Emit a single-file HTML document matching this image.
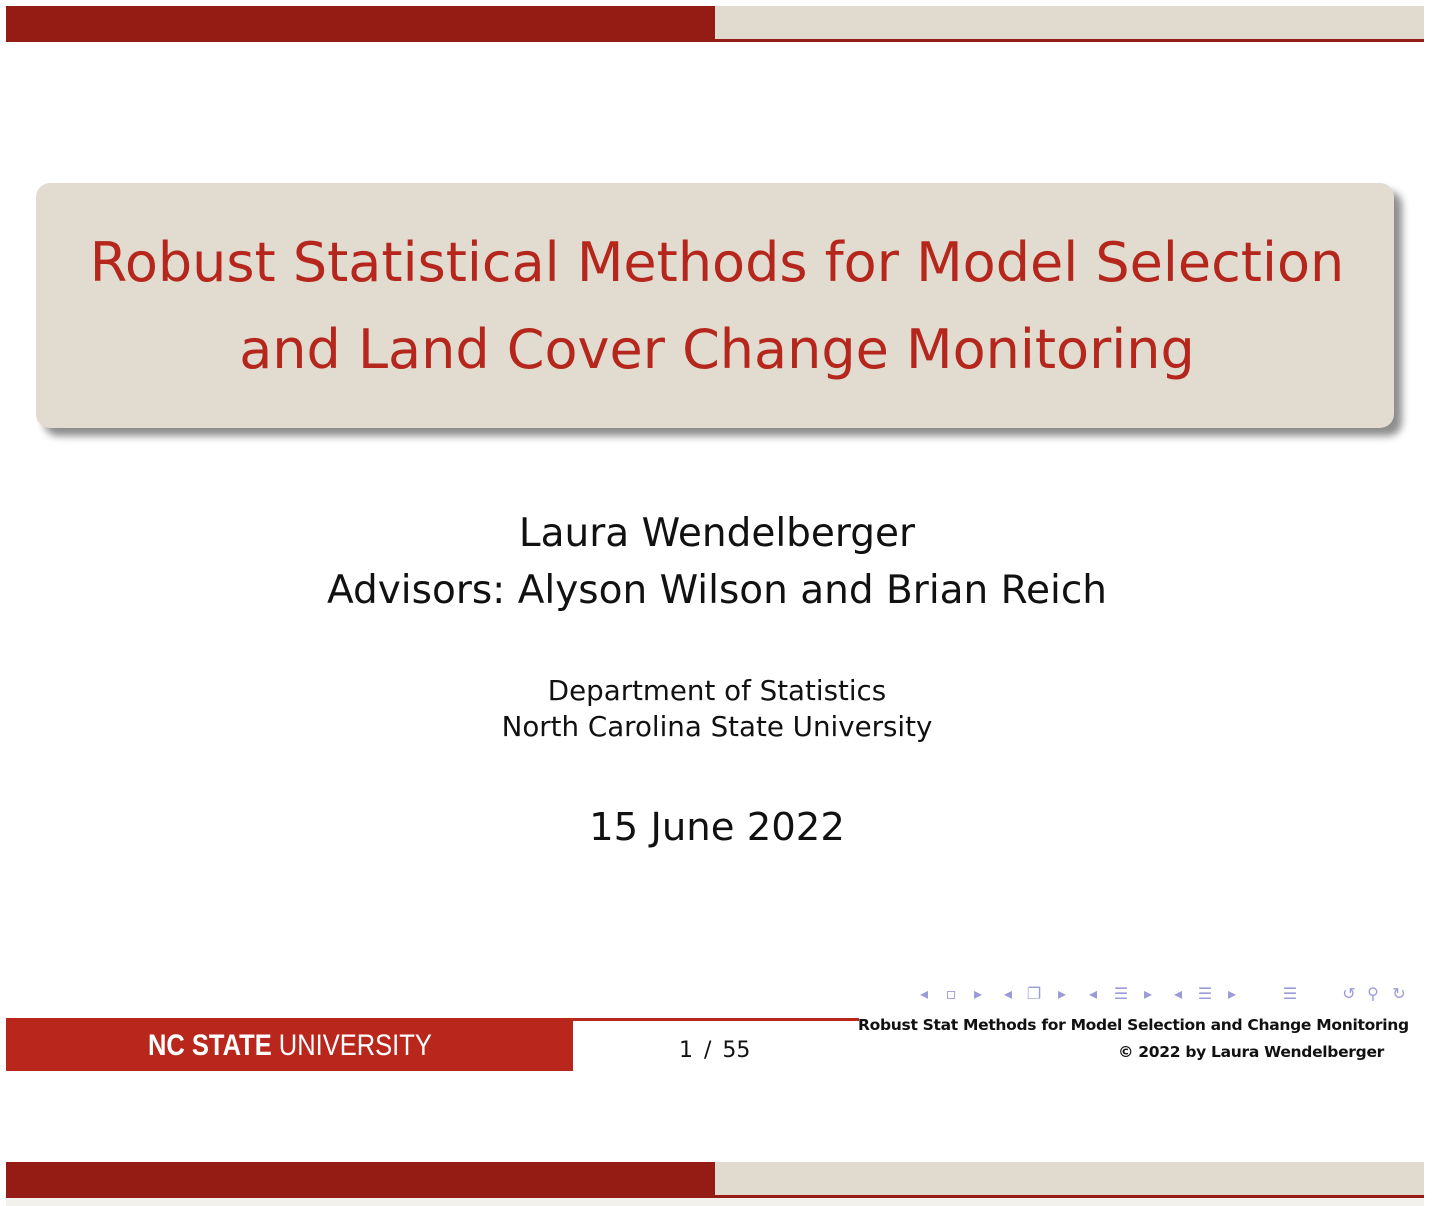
<!DOCTYPE html>
<html><head><meta charset="utf-8"><style>
body{margin:0;width:1434px;height:1206px;background:#fff;position:relative;overflow:hidden;font-family:"DejaVu Sans","Liberation Sans",sans-serif}
div{position:absolute}
.c{left:0;width:1434px;text-align:center;white-space:nowrap}
.n{position:absolute;top:984px;font-size:16px;color:#9b9bd6;transform:translateX(-50%)}
</style></head><body>
<div style="left:6px;top:6px;width:709px;height:36px;background:#951c14"></div>
<div style="left:715px;top:6px;width:709px;height:33px;background:#e1dbcf"></div>
<div style="left:715px;top:39px;width:709px;height:3px;background:#951c14"></div>

<div style="left:36px;top:183px;width:1358px;height:245px;background:#e1dbd0;border-radius:14px;box-shadow:8px 8px 8px rgba(0,0,0,0.45)"></div>
<div class="c" style="top:219px;color:#b5261c;font-size:54px;line-height:87px;">Robust Statistical Methods for Model Selection<br>and Land Cover Change Monitoring</div>

<div class="c" style="top:505px;font-size:39px;line-height:57px;color:#111">Laura Wendelberger<br>Advisors: Alyson Wilson and Brian Reich</div>
<div class="c" style="top:673px;font-size:27.7px;line-height:36px;color:#111">Department of Statistics<br>North Carolina State University</div>
<div class="c" style="top:800px;font-size:38.6px;line-height:56px;color:#111">15 June 2022</div>

<span class="n" style="left:924px">◂</span>
<span class="n" style="left:951px">▫</span>
<span class="n" style="left:978px">▸</span>
<span class="n" style="left:1008px">◂</span>
<span class="n" style="left:1034px">❐</span>
<span class="n" style="left:1062px">▸</span>
<span class="n" style="left:1093px">◂</span>
<span class="n" style="left:1121px">☰</span>
<span class="n" style="left:1148px">▸</span>
<span class="n" style="left:1178px">◂</span>
<span class="n" style="left:1205px">☰</span>
<span class="n" style="left:1232px">▸</span>
<span class="n" style="left:1290px">☰</span>
<span class="n" style="left:1349px">↺</span>
<span class="n" style="left:1373px">⚲</span>
<span class="n" style="left:1399px">↻</span>

<div style="left:6px;top:1018px;width:853px;height:3px;background:#b9261c"></div>
<div style="left:6px;top:1021px;width:567px;height:50px;background:#b9261c"></div>
<div style="left:148px;top:1029px;font-family:'Liberation Sans Narrow','Liberation Sans',sans-serif;font-size:30px;color:#fff;white-space:nowrap;transform:scaleX(0.85);transform-origin:left"><b>NC STATE</b> UNIVERSITY</div>
<div style="left:679px;top:1038px;font-size:22px;color:#111;word-spacing:4px">1 / 55</div>
<div style="left:858px;top:1016px;width:550px;text-align:right;font-size:15.5px;color:#111;white-space:nowrap;font-weight:bold;letter-spacing:-0.3px">Robust Stat Methods for Model Selection and Change Monitoring</div>
<div style="left:858px;top:1043px;width:526px;text-align:right;font-size:15.5px;color:#111;white-space:nowrap;font-weight:bold;letter-spacing:-0.3px">© 2022 by Laura Wendelberger</div>

<div style="left:6px;top:1162px;width:709px;height:36px;background:#951c14"></div>
<div style="left:715px;top:1162px;width:709px;height:33px;background:#e1dbcf"></div>
<div style="left:715px;top:1195px;width:709px;height:3px;background:#951c14"></div>
<div style="left:6px;top:1198px;width:1418px;height:8px;background:#f3f1ec"></div>
</body></html>
